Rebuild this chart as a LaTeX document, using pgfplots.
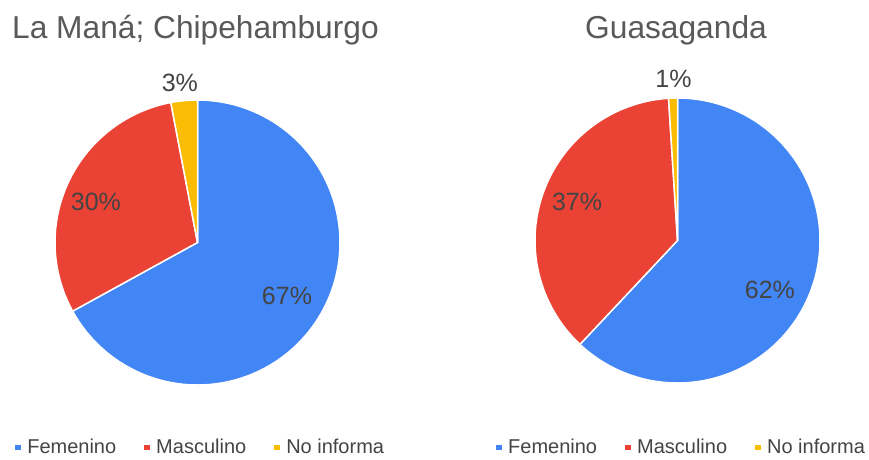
\documentclass[border=0pt]{standalone}
\usepackage{fontspec}
\setmainfont{Liberation Sans}
\usepackage{pgfplots}
\pgfplotsset{compat=1.18}
\usepgfplotslibrary{polar}

\definecolor{gblue}{HTML}{4285F4}
\definecolor{gred}{HTML}{EA4335}
\definecolor{gyellow}{HTML}{FBBC04}
\definecolor{titlegray}{HTML}{595959}
\definecolor{labelgray}{HTML}{444444}

% one slice of a pie: #1 = cumulative share before (%), #2 = cumulative share after (%), #3 = colour
% slices run clockwise from 12 o'clock
\newcommand\slice[3]{%
  \addplot[fill=#3, draw=white, line width=1.5pt, forget plot,
    domain=90-3.6*#2:90-3.6*#1, samples=150] {1} -- (axis cs:0,0) -- cycle;}

\pgfplotsset{
  pie/.style={
    scale only axis, width=285pt, height=285pt, hide axis,
    xmin=0, xmax=360, ymin=0, ymax=1, clip=false, anchor=center,
    legend columns=3,
    legend image code/.code={\fill[##1, draw=none] (0pt,-2.8pt) rectangle (5.5pt,2.8pt);},
    legend style={draw=none, fill=none, inner sep=0pt, anchor=west,
      font=\fontsize{20}{24}\selectfont, text=labelgray,
      nodes={inner sep=0pt, anchor=west},
      /tikz/every odd column/.append style={column sep=6.5pt},
      /tikz/every even column/.append style={column sep=28pt}},
  },
  pct/.style={draw=none, mark=none, forget plot, point meta=explicit symbolic,
    nodes near coords={\pgfplotspointmeta\%},
    every node near coord/.append style={anchor=center, inner sep=0pt,
      font=\fontsize{25}{30}\selectfont, text=labelgray}},
}

\begin{document}
\begin{tikzpicture}
\useasboundingbox (0pt,0pt) rectangle (869pt,-459pt);
\clip (0pt,0pt) rectangle (869pt,-459pt);

\node[anchor=base west, inner sep=0pt, text=titlegray, font=\fontsize{31.7}{38}\selectfont]
  at (12pt,-38pt) {La Maná; Chipehamburgo};
\node[anchor=base, inner sep=0pt, text=titlegray, font=\fontsize{31.7}{38}\selectfont]
  at (676pt,-38pt) {Guasaganda};

% La Maná; Chipehamburgo: 67 / 30 / 3
\begin{polaraxis}[pie, at={(197.5pt,-242.5pt)},
  legend style={at={(-0.14,-0.219)}}]
\slice{0}{67}{gblue}
\slice{67}{97}{gred}
\slice{97}{100}{gyellow}
\addplot[pct] coordinates {(-30.9,0.732) [67] (158.3,0.767) [30] (96.3,1.126) [3]};
\addlegendimage{fill=gblue}\addlegendentry{Femenino}
\addlegendimage{fill=gred}\addlegendentry{Masculino}
\addlegendimage{fill=gyellow}\addlegendentry{No informa}
\end{polaraxis}

% Guasaganda: 62 / 37 / 1
\begin{polaraxis}[pie, at={(677.5pt,-240.5pt)},
  legend style={at={(-0.137,-0.226)}}]
\slice{0}{62}{gblue}
\slice{62}{99}{gred}
\slice{99}{100}{gyellow}
\addplot[pct] coordinates {(-28.2,0.736) [62] (159.0,0.755) [37] (91.4,1.134) [1]};
\addlegendimage{fill=gblue}\addlegendentry{Femenino}
\addlegendimage{fill=gred}\addlegendentry{Masculino}
\addlegendimage{fill=gyellow}\addlegendentry{No informa}
\end{polaraxis}
\end{tikzpicture}
\end{document}
